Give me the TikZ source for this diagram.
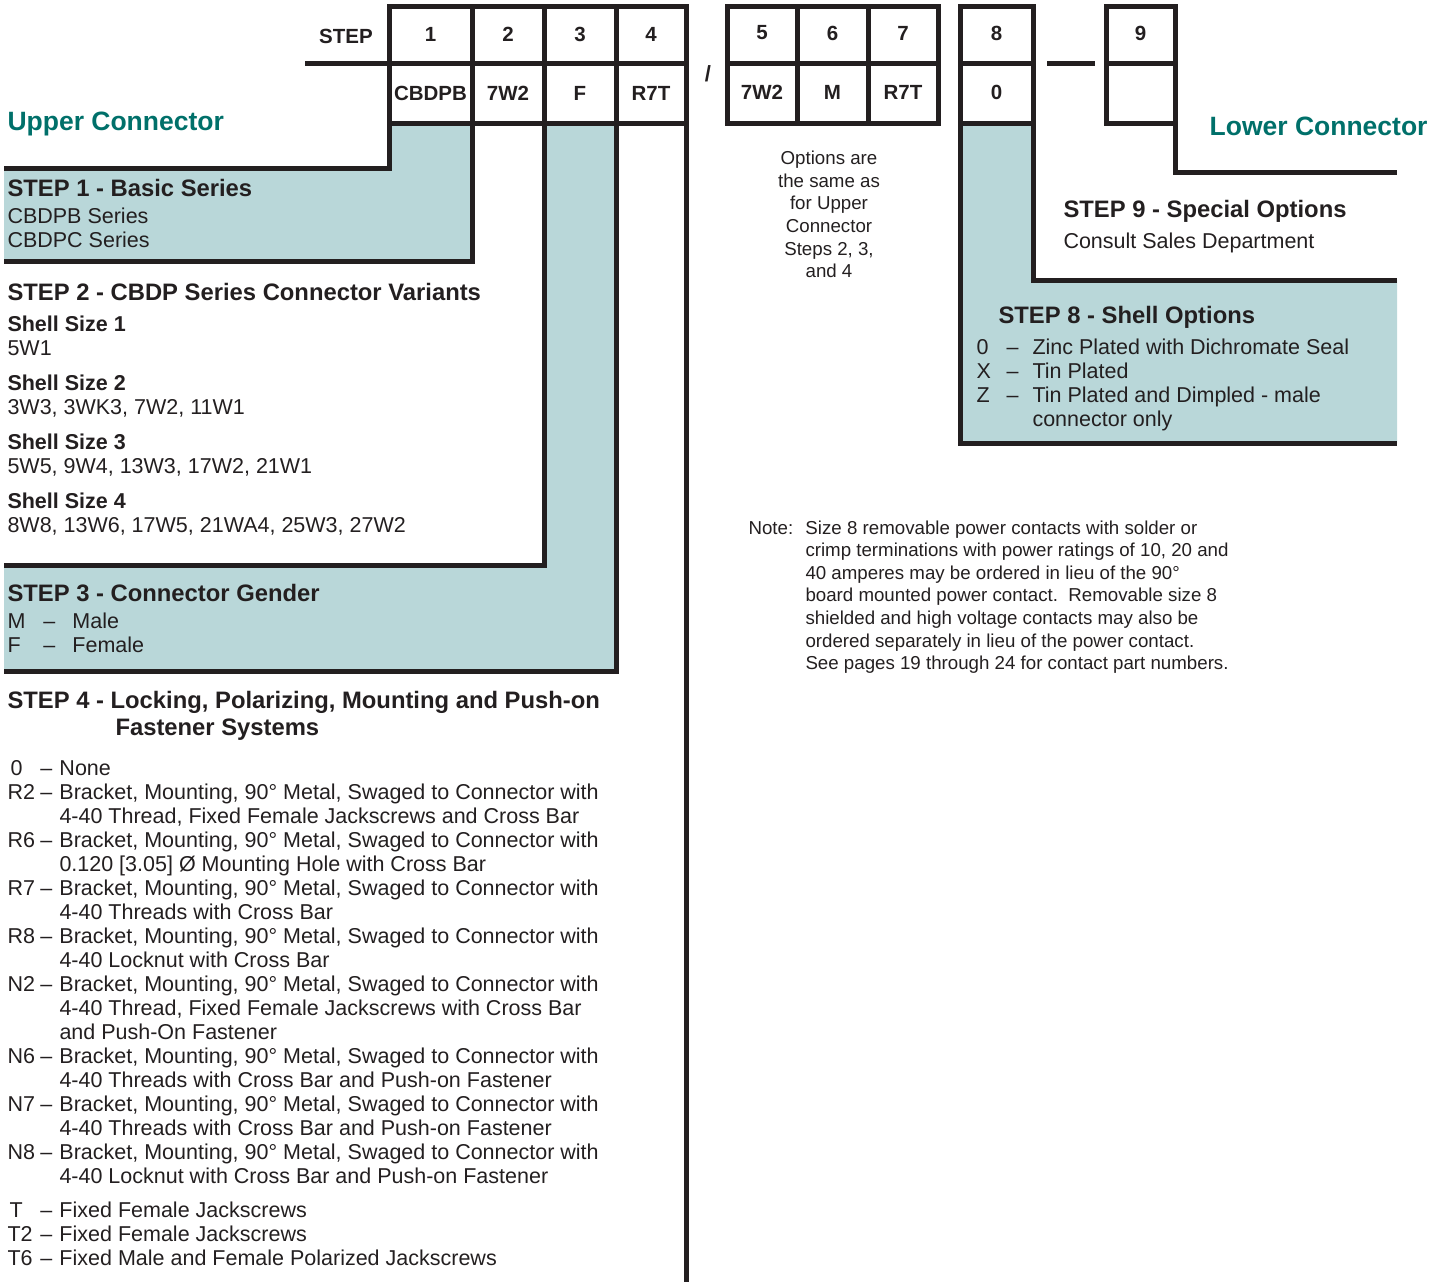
\documentclass[tikz,border=0pt]{standalone}
\usepackage{fontspec}
\setmainfont{Liberation Sans}
\usetikzlibrary{positioning}

\definecolor{ink}{RGB}{35,31,32}
\definecolor{shellblue}{RGB}{185,215,217}
\definecolor{connteal}{RGB}{0,112,106}

\newcommand{\bodyfont}{\fontsize{21.5}{24}\selectfont}
\newcommand{\headfont}{\fontsize{23.8}{27}\selectfont\bfseries}
\newcommand{\cellfont}{\fontsize{20.5}{24}\selectfont\bfseries}
\newcommand{\notefont}{\fontsize{18.7}{22.6}\selectfont}
\newcommand{\opt}[2]{\makebox[33pt][l]{#1}\makebox[19pt][l]{–}#2}
\newcommand{\cont}{\hspace*{52pt}}

\begin{document}
\begin{tikzpicture}[x=1pt, y=-1pt, line width=5pt, color=ink, line join=miter,
    txt/.style={inner sep=0pt, anchor=base west, text=ink, font=\bodyfont, align=left},
    head/.style={txt, font=\headfont},
    cell/.style={inner sep=0pt, font=\cellfont, text=ink},
    conn/.style={inner sep=0pt, font=\fontsize{26.5}{30}\selectfont\bfseries, text=connteal}]
    \useasboundingbox (0,0) rectangle (1442,1282);

    % shaded steps
    \fill[shellblue] (4,168) -- (389,168) -- (389,123) -- (472,123) -- (472,261) -- (4,261) -- cycle;
    \fill[shellblue] (4,565) -- (544,565) -- (544,123) -- (616,123) -- (616,671) -- (4,671) -- cycle;
    \fill[shellblue] (960,123) -- (1033,123) -- (1033,280) -- (1397,280) -- (1397,443) -- (960,443) -- cycle;

    % upper connector boxes
    \draw (305,63) -- (389,63);
    \draw (389,6) rectangle (686,123);
    \draw (389,63) -- (686,63);
    \draw (472,6) -- (472,123);
    \draw (544,6) -- (544,123);
    \draw (616,6) -- (616,123);
    \node[cell] (steplbl) at (346,36) {STEP};
    \foreach \x/\n/\v in {430.5/1/CBDPB, 508/2/7W2, 580/3/F, 651/4/R7T} {
        \node[cell] (num\n) at (\x,34.5) {\n};
        \node[cell] (code\n) at (\x,93) {\v};
    }

    % leader lines, left side
    \draw (4,168) -- (389,168) -- (389,123);
    \draw (472,123) -- (472,261) -- (4,261);
    \draw (544,123) -- (544,565) -- (4,565);
    \draw (616,123) -- (616,671) -- (4,671);
    \draw (686,123) -- (686,1282);

    % lower connector boxes
    \node[cell, font=\fontsize{22}{24}\selectfont\bfseries] (slash) at (708,74) {/};
    \draw (727,6) rectangle (938,123);
    \draw (727,63) -- (938,63);
    \draw (797,6) -- (797,123);
    \draw (868,6) -- (868,123);
    \foreach \x/\n/\v in {762/5/7W2, 832.5/6/M, 903/7/R7T} {
        \node[cell] (num\n) at (\x,33) {\n};
        \node[cell] (code\n) at (\x,92) {\v};
    }
    \draw (960,6) rectangle (1033,123);
    \draw (960,63) -- (1033,63);
    \node[cell] (num8) at (996.5,33) {8};
    \node[cell] (code8) at (996.5,92) {0};
    \draw (1047,63) -- (1095,63);
    \draw (1106,6) rectangle (1175,123);
    \draw (1106,63) -- (1175,63);
    \node[cell] (num9) at (1140.5,33) {9};

    % leader lines, right side
    \draw (1175,123) -- (1175,172) -- (1397,172);
    \draw (1033,123) -- (1033,280) -- (1397,280);
    \draw (960,123) -- (960,443) -- (1397,443);

    \node[conn, anchor=base west] (upper) at (5,130.5) {Upper Connector};
    \node[conn, anchor=base east] (lower) at (1430,135.5) {Lower Connector};

    % Step 1
    \node[head] (s1) at (5,196.5) {STEP 1 - Basic Series};
    \node[txt] (s1txt) at (5,247.7) {CBDPB Series\\CBDPC Series};

    % Step 2
    \node[head] (s2) at (5,300.5) {STEP 2 - CBDP Series Connector Variants};
    \node[txt] (s2txt) at (5,532.7) {\textbf{Shell Size 1}\\5W1\\[11pt]
        \textbf{Shell Size 2}\\3W3, 3WK3, 7W2, 11W1\\[11pt]
        \textbf{Shell Size 3}\\5W5, 9W4, 13W3, 17W2, 21W1\\[11pt]
        \textbf{Shell Size 4}\\8W8, 13W6, 17W5, 21WA4, 25W3, 27W2};

    % Step 3
    \node[head] (s3) at (5,601.5) {STEP 3 - Connector Gender};
    \node[txt] (s3txt) at (5,652.7) {\makebox[36pt][l]{M}\makebox[29pt][l]{–}Male\\
        \makebox[36pt][l]{F}\makebox[29pt][l]{–}Female};

    % Step 4
    \node[head] (s4) at (5,735.5) {STEP 4 - Locking, Polarizing, Mounting and Push-on\\
        \hspace*{108pt}Fastener Systems};
    \node[txt] (s4txt) at (5,1265.7) {\opt{\hspace*{3pt}0}{None}\\
        \opt{R2}{Bracket, Mounting, 90° Metal, Swaged to Connector with}\\
        \cont 4-40 Thread, Fixed Female Jackscrews and Cross Bar\\
        \opt{R6}{Bracket, Mounting, 90° Metal, Swaged to Connector with}\\
        \cont 0.120 [3.05] Ø Mounting Hole with Cross Bar\\
        \opt{R7}{Bracket, Mounting, 90° Metal, Swaged to Connector with}\\
        \cont 4-40 Threads with Cross Bar\\
        \opt{R8}{Bracket, Mounting, 90° Metal, Swaged to Connector with}\\
        \cont 4-40 Locknut with Cross Bar\\
        \opt{N2}{Bracket, Mounting, 90° Metal, Swaged to Connector with}\\
        \cont 4-40 Thread, Fixed Female Jackscrews with Cross Bar\\
        \cont and Push-On Fastener\\
        \opt{N6}{Bracket, Mounting, 90° Metal, Swaged to Connector with}\\
        \cont 4-40 Threads with Cross Bar and Push-on Fastener\\
        \opt{N7}{Bracket, Mounting, 90° Metal, Swaged to Connector with}\\
        \cont 4-40 Threads with Cross Bar and Push-on Fastener\\
        \opt{N8}{Bracket, Mounting, 90° Metal, Swaged to Connector with}\\
        \cont 4-40 Locknut with Cross Bar and Push-on Fastener\\[10pt]
        \opt{\hspace*{2pt}T}{Fixed Female Jackscrews}\\
        \opt{T2}{Fixed Female Jackscrews}\\
        \opt{T6}{Fixed Male and Female Polarized Jackscrews}};

    % lower connector notes
    \node[inner sep=0pt, anchor=base, align=center, font=\notefont, text=ink] (same) at (829,277.7)
        {Options are\\the same as\\for Upper\\Connector\\Steps 2, 3,\\and 4};

    % Step 9
    \node[head] (s9) at (1061,217.5) {STEP 9 - Special Options};
    \node[txt] (s9txt) at (1061,248.7) {Consult Sales Department};

    % Step 8
    \node[head] (s8) at (996,323.5) {STEP 8 - Shell Options};
    \node[txt] (s8txt) at (974,426.7) {\makebox[30pt][l]{0}\makebox[26pt][l]{–}Zinc Plated with Dichromate Seal\\
        \makebox[30pt][l]{X}\makebox[26pt][l]{–}Tin Plated\\
        \makebox[30pt][l]{Z}\makebox[26pt][l]{–}Tin Plated and Dimpled - male\\
        \hspace*{56pt}connector only};

    % note
    \node[inner sep=0pt, anchor=base west, align=left, font=\notefont, text=ink] (note) at (746,669.7)
        {\makebox[57pt][l]{Note:}Size 8 removable power contacts with solder or\\
        \hspace*{57pt}crimp terminations with power ratings of 10, 20 and\\
        \hspace*{57pt}40 amperes may be ordered in lieu of the 90°\\
        \hspace*{57pt}board mounted power contact.\ \ Removable size 8\\
        \hspace*{57pt}shielded and high voltage contacts may also be\\
        \hspace*{57pt}ordered separately in lieu of the power contact.\\
        \hspace*{57pt}See pages 19 through 24 for contact part numbers.};
\end{tikzpicture}
\end{document}
